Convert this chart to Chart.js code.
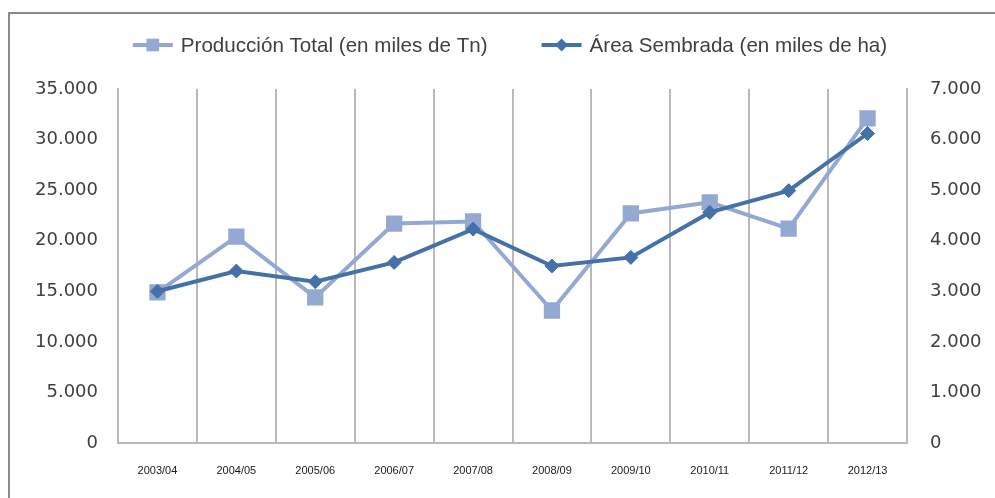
<!DOCTYPE html>
<html>
<head>
<meta charset="utf-8">
<script src="https://cdn.jsdelivr.net/npm/chart.js@4/dist/chart.umd.min.js"></script>
<style>
    body { margin: 0; background: #ffffff; }
    #wrap { position: relative; width: 995px; height: 498px; overflow: hidden; }
    #frame {
        position: absolute; left: 8px; top: 12px; width: 1100px; height: 600px;
        border-left: 2px solid #8a8a8a; border-top: 2px solid #8a8a8a;
    }
    #chart { position: absolute; left: 0; top: 0; }
</style>
</head>
<body>
<div id="wrap">
    <div id="frame"></div>
    <canvas id="chart" width="995" height="498"></canvas>
</div>
<script>
// Campaign labels (x axis)
const campaigns = ['2003/04', '2004/05', '2005/06', '2006/07', '2007/08',
    '2008/09', '2009/10', '2010/11', '2011/12', '2012/13'];

// Producción total (miles de Tn) - left axis
const produccion = [14900, 20400, 14400, 21700, 21900, 13100, 22700, 23800, 21200, 32100];

// Área sembrada (miles de ha) - right axis
const areaSembrada = [3000, 3400, 3190, 3570, 4230, 3500, 3670, 4560, 4990, 6120];

// Series names
const seriesNames = ['Producción Total (en miles de Tn)', 'Área Sembrada (en miles de ha)'];

// Axis ranges
const leftMax = 35000;
const leftStep = 5000;
const rightMax = 7000;
const rightStep = 1000;

const lightBlue = '#94a9d1';
const darkBlue = '#4472a8';
const gridGray = '#b9b9b9';
const textColor = '#404040';

// Format numbers with dot as thousands separator
function formatNumber(v) {
    return String(v).replace(/\B(?=(\d{3})+(?!\d))/g, '.');
}

// Legend drawn at the top, line + marker like the original
const topLegend = {
    id: 'topLegend',
    afterDraw(chart) {
        const ctx = chart.ctx;
        const datasets = chart.data.datasets;
        const symbolW = 40, textGap = 8, itemGap = 54;
        const centerX = 510, y = 45;
        ctx.save();
        ctx.font = '20.6px "Liberation Sans", Arial, sans-serif';
        const widths = datasets.map(ds => symbolW + textGap + ctx.measureText(ds.label).width);
        const total = widths.reduce((a, b) => a + b, 0) + itemGap * (datasets.length - 1);
        let x = centerX - total / 2;
        datasets.forEach((ds, i) => {
            ctx.strokeStyle = ds.borderColor;
            ctx.lineWidth = 4;
            ctx.beginPath();
            ctx.moveTo(x, y);
            ctx.lineTo(x + symbolW, y);
            ctx.stroke();
            ctx.fillStyle = ds.pointBackgroundColor;
            Chart.helpers.drawPoint(ctx, {
                pointStyle: ds.pointStyle,
                radius: ds.legendRadius,
                rotation: 0,
                borderWidth: 0
            }, x + symbolW / 2, y);
            ctx.fillStyle = textColor;
            ctx.textAlign = 'left';
            ctx.textBaseline = 'middle';
            ctx.fillText(ds.label, x + symbolW + textGap, y + 1);
            x += widths[i] + itemGap;
        });
        ctx.restore();
    }
};

new Chart(document.getElementById('chart'), {
    type: 'line',
    data: {
        labels: campaigns,
        datasets: [{
            label: seriesNames[0],
            data: produccion,
            yAxisID: 'yLeft',
            borderColor: lightBlue,
            backgroundColor: lightBlue,
            pointBackgroundColor: lightBlue,
            pointBorderColor: lightBlue,
            borderWidth: 4,
            pointStyle: 'rect',
            pointRadius: 11.5,
            pointBorderWidth: 0,
            legendRadius: 9,
            tension: 0,
            order: 1
        }, {
            label: seriesNames[1],
            data: areaSembrada,
            yAxisID: 'yRight',
            borderColor: darkBlue,
            backgroundColor: darkBlue,
            pointBackgroundColor: darkBlue,
            pointBorderColor: darkBlue,
            borderWidth: 4,
            pointStyle: 'rectRot',
            pointRadius: 7,
            pointBorderWidth: 1,
            legendRadius: 6.5,
            tension: 0,
            order: 0
        }]
    },
    options: {
        responsive: false,
        animation: false,
        layout: {
            padding: { top: 89, left: 0, right: 0, bottom: 0 }
        },
        plugins: {
            legend: { display: false },
            tooltip: { enabled: false }
        },
        scales: {
            x: {
                offset: true,
                grid: {
                    offset: true,
                    color: gridGray,
                    lineWidth: 2,
                    drawTicks: false
                },
                border: { display: true, color: gridGray, width: 2 },
                ticks: {
                    padding: 21,
                    color: '#1a1a1a',
                    font: { family: '"Liberation Sans Narrow", "Liberation Sans", Arial, sans-serif', size: 11 }
                },
                afterFit(scale) { scale.height = 55; }
            },
            yLeft: {
                position: 'left',
                min: 0,
                max: leftMax,
                grid: { drawOnChartArea: false, drawTicks: false },
                border: { display: true, color: gridGray, width: 2 },
                ticks: {
                    stepSize: leftStep,
                    padding: 20,
                    color: textColor,
                    font: { family: '"DejaVu Sans", Verdana, sans-serif', size: 18 },
                    callback: v => formatNumber(v)
                },
                afterFit(scale) { scale.width = 118; }
            },
            yRight: {
                position: 'right',
                min: 0,
                max: rightMax,
                grid: { drawOnChartArea: false, drawTicks: false },
                border: { display: true, color: gridGray, width: 2 },
                ticks: {
                    stepSize: rightStep,
                    padding: 23,
                    color: textColor,
                    font: { family: '"DejaVu Sans", Verdana, sans-serif', size: 18 },
                    callback: v => formatNumber(v)
                },
                afterFit(scale) { scale.width = 88; }
            }
        }
    },
    plugins: [topLegend]
});
</script>
</body>
</html>
